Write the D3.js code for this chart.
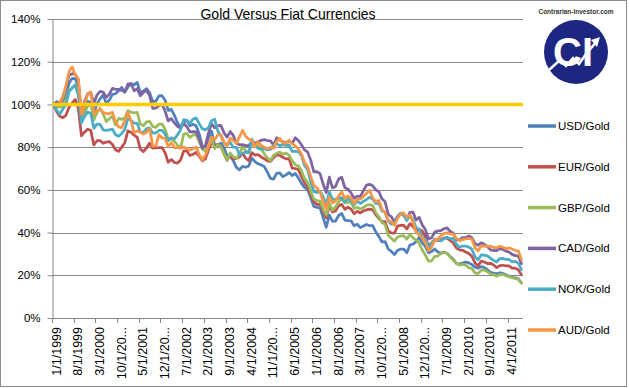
<!DOCTYPE html>
<html>
<head>
<meta charset="utf-8">
<script src="https://cdn.jsdelivr.net/npm/d3@7"></script>
<style>
  body { margin: 0; background: #fff; }
  svg { display: block; font-family: "Liberation Sans", Arial, sans-serif; }
</style>
</head>
<body>
<svg id="chart" width="629" height="388"></svg>
<script>
// monthly categories, Jan 1999 .. Aug 2011
const months = d3.timeMonth.range(new Date(1999, 0, 1), new Date(2011, 8, 1));

const xTickLabels = ["1/1/1999", "8/1/1999", "3/1/2000", "10/1/20...", "5/1/2001", "12/1/20...",
  "7/1/2002", "2/1/2003", "9/1/2003", "4/1/2004", "11/1/20...", "6/1/2005", "1/1/2006",
  "8/1/2006", "3/1/2007", "10/1/20...", "5/1/2008", "12/1/20...", "7/1/2009", "2/1/2010",
  "9/1/2010", "4/1/2011"];

const yTicks = [0, 20, 40, 60, 80, 100, 120, 140];

const seriesNames = ["USD/Gold", "EUR/Gold", "GBP/Gold", "CAD/Gold", "NOK/Gold", "AUD/Gold"];
const seriesColors = ["#4f81bd", "#c0504d", "#9bbb59", "#8064a2", "#4bacc6", "#f79646"];

// values in % of Jan 1999
const usd = [100.0,100.0,100.5,101.7,103.8,110.0,112.2,111.9,108.5,92.5,98.0,101.5,
  100.9,95.8,100.3,102.6,104.4,100.6,102.0,104.7,105.0,106.4,108.0,105.8,
  108.2,109.7,109.2,110.3,105.5,106.3,107.4,105.5,101.4,101.5,104.0,104.1,
  102.0,97.2,97.7,94.9,91.4,89.4,91.7,92.6,90.0,90.7,90.0,86.2,
  80.5,80.0,84.4,87.5,80.8,80.6,81.9,79.8,75.8,75.8,73.7,70.5,
  69.4,71.0,70.6,71.2,74.9,73.2,72.2,71.7,70.9,68.3,65.4,65.0,
  67.7,67.9,66.2,67.0,68.1,66.7,67.7,65.6,63.0,61.1,60.3,56.3,
  52.2,51.8,51.6,47.0,42.5,48.2,45.3,45.4,48.0,49.0,45.8,45.6,
  45.5,43.2,43.9,42.3,43.1,43.8,43.2,43.2,40.3,38.1,35.6,35.8,
  32.3,31.2,29.7,31.6,32.3,32.3,30.6,34.2,34.6,35.6,37.8,35.2,
  33.5,30.5,31.1,32.3,30.9,30.4,30.8,30.3,28.8,27.5,25.5,25.3,
  25.7,26.2,25.8,25.0,23.8,23.3,24.1,23.6,22.6,21.4,21.0,20.7,
  21.2,20.9,20.2,19.5,19.0,18.8,18.3,16.4];

const eur = [100.0,96.6,94.5,93.8,94.9,98.7,100.6,102.3,98.2,85.3,87.0,88.4,
  87.9,81.0,83.0,83.1,81.8,82.4,82.6,81.2,78.8,78.0,80.0,82.1,
  87.6,87.0,85.6,84.6,79.1,77.9,79.6,81.9,79.5,79.6,79.8,79.8,
  77.4,72.9,74.2,72.8,72.5,74.0,78.2,78.2,76.1,76.6,77.6,75.8,
  73.6,74.5,78.6,82.3,80.8,81.3,80.5,77.1,73.8,76.5,74.4,74.7,
  75.4,77.1,74.8,73.6,77.4,76.3,76.5,75.4,74.6,73.6,73.3,75.1,
  76.4,76.1,75.3,74.5,74.6,70.2,70.0,69.5,66.3,63.2,61.3,57.8,
  54.4,53.1,53.4,49.8,46.9,52.8,49.6,50.1,52.6,53.2,50.9,51.9,
  51.0,48.8,50.0,49.2,50.2,50.6,51.0,50.6,48.3,46.6,45.1,45.1,
  40.9,39.8,39.7,43.0,43.4,43.4,41.7,44.2,42.9,40.8,41.4,40.7,
  38.1,33.6,35.1,36.8,36.2,36.7,37.5,37.4,36.3,35.1,32.7,31.9,
  31.7,30.9,30.2,28.9,25.8,24.5,26.6,26.2,25.5,25.6,24.8,23.6,
  24.5,24.7,24.4,24.4,23.4,23.3,22.6,20.2];

const gbp = [100.0,98.8,98.7,99.3,101.9,106.7,107.5,109.2,106.5,93.1,96.2,99.1,
  100.3,92.9,96.1,98.3,95.5,92.0,93.3,94.5,90.4,93.5,93.0,93.6,
  97.1,96.4,96.0,96.3,90.8,90.1,91.8,92.1,89.7,89.2,90.8,90.9,
  88.4,83.7,84.1,82.8,80.9,79.7,86.1,86.4,84.5,85.7,85.7,82.6,
  79.1,78.1,80.9,83.3,79.3,81.1,80.4,76.9,74.0,77.2,75.5,74.8,
  76.5,80.4,78.3,77.7,81.3,81.2,80.5,79.1,76.9,74.9,73.7,76.1,
  77.1,77.7,76.7,77.2,76.3,73.6,71.8,71.2,69.1,65.2,63.6,59.4,
  55.7,55.0,54.7,51.0,48.2,53.7,50.5,52.0,54.4,55.8,53.9,54.2,
  54.1,51.3,51.9,51.0,51.7,52.8,53.1,52.6,49.3,47.3,44.7,43.8,
  38.6,37.3,36.0,37.9,38.4,38.6,36.9,39.2,37.5,36.5,35.0,31.8,
  29.4,26.6,26.8,28.8,29.0,30.2,30.6,30.3,28.5,27.0,25.7,24.8,
  25.1,24.8,23.6,23.2,21.1,20.8,22.3,22.5,21.7,20.6,20.4,19.6,
  20.3,20.4,19.8,19.4,18.8,18.5,18.0,16.3];

const cad = [100.0,101.3,100.5,103.7,108.1,113.7,114.4,114.1,111.4,95.0,101.3,105.0,
  105.7,100.4,104.4,106.1,105.8,103.3,104.8,107.5,107.1,107.1,106.6,105.8,
  109.6,109.7,106.4,107.4,104.1,105.6,106.6,104.1,98.2,98.3,99.4,100.1,
  96.9,92.3,93.4,91.3,89.7,88.8,91.1,89.6,87.1,87.3,87.1,84.0,
  79.5,80.6,86.7,91.1,89.0,90.1,90.2,86.7,84.7,87.3,85.5,81.8,
  81.1,81.2,80.7,80.7,82.5,81.8,82.5,83.2,83.5,83.1,82.9,81.0,
  84.4,83.2,82.5,82.1,82.8,81.8,84.4,83.1,81.1,78.7,77.7,73.8,
  68.4,68.5,67.6,62.7,58.7,66.0,60.9,61.6,65.1,65.9,61.1,60.3,
  58.6,56.1,57.0,56.9,59.6,62.2,62.6,61.9,60.0,59.1,55.8,54.4,
  48.6,47.4,45.1,47.6,49.1,48.1,46.1,49.5,49.6,45.9,47.1,43.5,
  41.4,37.1,37.5,40.2,40.8,40.9,41.8,42.2,40.5,39.8,36.6,36.6,
  37.6,37.6,38.4,37.6,34.8,34.1,35.2,34.5,33.4,31.9,31.6,31.5,
  32.5,32.1,31.3,30.9,29.8,29.2,29.0,25.4];

const nok = [100.0,97.4,95.5,97.8,99.9,105.8,107.9,109.0,104.4,91.3,94.3,96.4,
  95.9,88.8,90.8,90.7,88.1,87.9,88.1,88.4,85.8,85.1,86.4,88.3,
  93.5,92.6,91.2,91.1,87.1,86.8,88.7,89.0,86.6,86.7,87.8,87.9,
  86.1,83.0,84.4,83.9,85.7,88.2,92.9,92.6,91.2,93.1,93.7,91.0,
  88.6,88.1,89.1,92.4,93.1,87.5,85.3,82.0,81.1,82.3,80.0,79.9,
  76.4,77.1,77.7,77.3,83.7,80.6,79.5,78.9,79.3,78.7,78.9,81.0,
  81.6,80.7,81.2,80.8,80.9,78.0,78.0,77.9,76.0,71.4,69.5,63.8,
  59.2,58.7,59.4,56.7,53.0,59.1,55.5,55.7,56.1,56.4,54.4,55.9,
  54.9,53.0,54.7,53.6,54.6,55.5,56.6,55.6,53.7,53.6,50.1,49.5,
  45.4,43.9,44.3,47.1,49.1,48.1,45.6,48.1,46.1,42.3,41.6,37.7,
  36.9,33.1,34.8,36.6,36.7,36.1,37.1,37.8,37.1,37.3,34.6,33.1,
  33.7,33.7,33.2,32.2,28.7,27.2,29.5,29.4,29.1,28.0,27.0,26.2,
  27.8,27.9,27.4,27.4,26.3,26.5,25.7,22.7];

const aud = [100.0,100.0,100.5,103.3,108.8,115.3,117.6,113.7,112.0,95.5,99.6,104.7,
  105.7,95.8,97.1,97.7,96.2,95.8,95.6,96.4,91.7,89.5,89.1,92.4,
  96.2,92.3,86.7,87.6,87.0,86.1,87.0,88.7,80.5,80.6,85.8,84.3,
  84.2,80.2,82.2,79.8,79.8,79.5,80.1,79.4,78.6,79.2,80.0,76.6,
  74.1,76.2,80.3,84.7,83.4,85.7,85.8,82.4,80.6,84.2,83.1,81.7,
  84.8,87.9,85.1,83.7,83.2,80.2,82.5,80.8,79.9,79.2,79.9,79.4,
  82.7,84.1,82.0,81.9,83.2,81.5,80.6,79.1,77.0,72.7,70.9,66.2,
  62.1,60.9,59.0,54.5,51.3,56.6,53.9,54.8,57.1,59.1,56.0,57.2,
  56.3,53.5,55.8,55.7,56.8,58.4,59.7,56.2,54.4,55.0,50.9,49.4,
  45.6,45.1,43.4,46.6,48.7,49.2,47.1,48.3,45.0,40.1,39.0,37.4,
  35.6,31.5,33.1,36.4,36.8,38.6,39.6,39.9,39.3,39.3,37.2,36.2,
  36.7,37.0,37.3,36.9,32.9,31.4,33.7,33.7,33.7,33.6,33.0,32.9,
  33.6,33.2,32.4,32.8,32.3,31.6,31.4,27.3];

const baseline = 100;
const tickEvery = 7;

const svg = d3.select("#chart");
const width = +svg.attr("width");
const height = +svg.attr("height");
const margin = { top: 19, right: 106, bottom: 70, left: 52 };

const series = [usd, eur, gbp, cad, nok, aud].map((values, i) => ({
  name: seriesNames[i],
  color: seriesColors[i],
  values: values
}));

const x = d3.scaleBand()
  .domain(d3.range(months.length))
  .range([margin.left, width - margin.right])
  .paddingInner(0)
  .paddingOuter(0);

const y = d3.scaleLinear()
  .domain([0, 140])
  .range([height - margin.bottom, margin.top]);

const gridColor = "#868686";

// chart border
svg.append("rect")
  .attr("x", 0.5)
  .attr("y", 0.5)
  .attr("width", width - 3)
  .attr("height", height - 2)
  .attr("fill", "none")
  .attr("stroke", "#8c8c8c");

// gridlines
svg.append("g")
  .selectAll("line")
  .data(yTicks.filter(d => d > 0))
  .enter()
  .append("line")
  .attr("x1", margin.left)
  .attr("x2", width - margin.right)
  .attr("y1", d => Math.round(y(d)) + 0.5)
  .attr("y2", d => Math.round(y(d)) + 0.5)
  .attr("stroke", gridColor)
  .attr("stroke-width", 1);

// y axis
const yAxis = svg.append("g")
  .attr("transform", `translate(${margin.left + 0.5},0)`)
  .call(d3.axisLeft(y).tickValues(yTicks).tickFormat(d => d + "%").tickSize(5).tickSizeOuter(0));
yAxis.select(".domain").attr("stroke", gridColor);
yAxis.selectAll(".tick line").attr("stroke", gridColor);
yAxis.selectAll(".tick text")
  .attr("x", -12)
  .style("font-size", "11.5px")
  .attr("fill", "#000");

// x axis: tick marks between categories, labels under every 7th
const tickIdx = d3.range(0, months.length, tickEvery);
const xAxis = svg.append("g")
  .attr("transform", `translate(0,${y(0)})`);
xAxis.append("line")
  .attr("x1", margin.left)
  .attr("x2", width - margin.right)
  .attr("y1", 0.5)
  .attr("y2", 0.5)
  .attr("stroke", gridColor);
xAxis.selectAll(".xtick")
  .data(tickIdx)
  .enter()
  .append("line")
  .attr("class", "xtick")
  .attr("x1", d => Math.round(x(d)) + 0.5)
  .attr("x2", d => Math.round(x(d)) + 0.5)
  .attr("y1", 0)
  .attr("y2", 5)
  .attr("stroke", gridColor);
xAxis.selectAll(".xlabel")
  .data(tickIdx)
  .enter()
  .append("text")
  .attr("class", "xlabel")
  .attr("transform", d => `translate(${x(d) + x.bandwidth() / 2 + 7},9) rotate(-90)`)
  .attr("text-anchor", "end")
  .style("font-size", "12.5px")
  .text((d, i) => xTickLabels[i]);

// series lines
const line = d3.line()
  .x((d, i) => x(i) + x.bandwidth() / 2)
  .y(d => y(d));

svg.append("g")
  .selectAll("path")
  .data(series)
  .enter()
  .append("path")
  .attr("d", d => line(d.values))
  .attr("fill", "none")
  .attr("stroke", d => d.color)
  .attr("stroke-width", 2.75)
  .attr("stroke-linejoin", "round")
  .attr("stroke-linecap", "round");

// 100% reference line
svg.append("line")
  .attr("x1", margin.left)
  .attr("x2", width - margin.right)
  .attr("y1", y(baseline))
  .attr("y2", y(baseline))
  .attr("stroke", "#ffcc00")
  .attr("stroke-width", 3.5);

// title
svg.append("text")
  .attr("x", 288)
  .attr("y", 19)
  .attr("text-anchor", "middle")
  .style("font-size", "14px")
  .text("Gold Versus Fiat Currencies");

// legend
const legend = svg.append("g")
  .selectAll("g")
  .data(series)
  .enter()
  .append("g")
  .attr("transform", (d, i) => `translate(528,${126 + i * 40.8})`);
legend.append("line")
  .attr("x1", 0)
  .attr("x2", 28)
  .attr("stroke", d => d.color)
  .attr("stroke-width", 3.5);
legend.append("text")
  .attr("x", 30)
  .attr("y", 4)
  .style("font-size", "11.5px")
  .text(d => d.name);

// logo
const logo = svg.append("g").attr("transform", "translate(576,52)");
logo.append("text")
  .attr("y", -38)
  .attr("text-anchor", "middle")
  .style("font-size", "6.5px")
  .style("font-weight", "bold")
  .attr("fill", "#333")
  .text("Contrarian-Investor.com");
logo.append("circle")
  .attr("r", 32)
  .attr("fill", "#1d2680");
logo.append("text")
  .attr("x", -3)
  .attr("y", 14)
  .attr("text-anchor", "middle")
  .style("font-size", "40px")
  .style("font-weight", "bold")
  .attr("fill", "#fff")
  .text("CI");
logo.append("polyline")
  .attr("points", "-27,18 -16,8 -10,14 -3,6 3,12 10,2 22,-12")
  .attr("fill", "none")
  .attr("stroke", "#fff")
  .attr("stroke-width", 2.5);
logo.append("path")
  .attr("d", "M24,-15 L15,-12 L21,-5 Z")
  .attr("fill", "#fff");
</script>
</body>
</html>
